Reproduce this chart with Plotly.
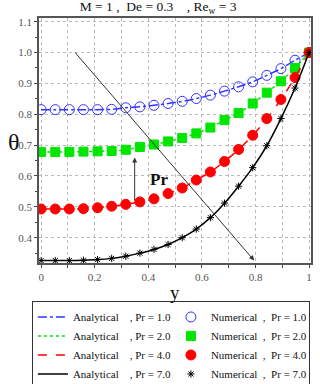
import plotly.graph_objects as go

# y-coordinate of the numerical points (20 points on [0, 1])
y_pts = [i / 19 for i in range(20)]

theta_pr1 = [0.815, 0.815, 0.815, 0.815, 0.815, 0.816, 0.821, 0.824, 0.829, 0.835,
             0.842, 0.851, 0.862, 0.875, 0.889, 0.905, 0.926, 0.948, 0.975, 1.0]
theta_pr2 = [0.678, 0.678, 0.678, 0.679, 0.680, 0.681, 0.685, 0.694, 0.702, 0.712,
             0.723, 0.738, 0.757, 0.781, 0.804, 0.835, 0.870, 0.907, 0.950, 1.0]
theta_pr4 = [0.493, 0.493, 0.493, 0.494, 0.497, 0.502, 0.508, 0.516, 0.526, 0.543,
             0.561, 0.587, 0.613, 0.647, 0.686, 0.732, 0.786, 0.848, 0.919, 1.0]
theta_pr7 = [0.326, 0.326, 0.326, 0.327, 0.329, 0.333, 0.340, 0.350, 0.362, 0.378,
             0.400, 0.428, 0.465, 0.512, 0.567, 0.627, 0.698, 0.786, 0.885, 1.0]

pr_labels = ['1.0', '2.0', '4.0', '7.0']
colors = ['#3333ff', '#00e600', '#ff0000', '#000000']
dashes = ['dashdot', 'dot', 'dash', 'solid']
symbols = ['circle-open', 'square', 'circle', 'asterisk-open']
sizes = [10, 9, 10, 6]

SERIF = 'Liberation Serif, Times New Roman, serif'
NB = '\u00a0'

fig = go.Figure()

for theta, pr, col, dash, sym, sz in zip([theta_pr1, theta_pr2, theta_pr4, theta_pr7],
                                         pr_labels, colors, dashes, symbols, sizes):
    fig.add_trace(go.Scatter(
        x=y_pts, y=theta, mode='lines',
        line=dict(color=col, dash=dash, width=1.5),
        name=f'Analytical{NB*4}, Pr = {pr}',
        line_shape='spline',
    ))
    fig.add_trace(go.Scatter(
        x=y_pts, y=theta, mode='markers',
        marker=dict(symbol=sym, color=col, size=sz,
                    line=dict(color=col, width=1)),
        name=f'Numerical{NB*2},{NB*2}Pr = {pr}',
    ))

# Pr arrows
fig.add_annotation(x=0.349, y=0.66, ax=0.349, ay=0.515, xref='x', yref='y',
                   axref='x', ayref='y', showarrow=True, arrowhead=2,
                   arrowsize=1, arrowwidth=1, arrowcolor='#333333', text='')
fig.add_annotation(x=0.795, y=0.326, ax=0.122, ay=1.005, xref='x', yref='y',
                   axref='x', ayref='y', showarrow=True, arrowhead=2,
                   arrowsize=1, arrowwidth=1, arrowcolor='#333333', text='')
fig.add_annotation(x=0.438, y=0.59, text='<b>Pr</b>', showarrow=False,
                   font=dict(family=SERIF, size=17, color='#111111'))

# axis titles
fig.add_annotation(x=-0.121, y=0.71, xref='paper', yref='y', text='θ',
                   showarrow=False, font=dict(family=SERIF, size=24, color='#111111'))
fig.add_annotation(x=0.5, y=-0.12, xref='paper', yref='paper', text='y',
                   showarrow=False, yanchor='middle',
                   font=dict(family=SERIF, size=19, color='#111111'))

fig.update_layout(
    width=320, height=384,
    margin=dict(l=39, r=9, t=18, b=121, autoexpand=False),
    paper_bgcolor='white', plot_bgcolor='white',
    title=dict(text=f'M = 1 ,{NB*2}De = 0.3{NB*2}{NB} , Re<sub>w</sub> = 3',
               x=0.494, xanchor='center', y=0.984, yanchor='middle',
               font=dict(family=SERIF, size=13.5, color='#111111')),
    font=dict(family=SERIF, color='#111111'),
    showlegend=True,
    legend=dict(
        orientation='h', x=-0.026, xanchor='left', y=-0.157, yanchor='top',
        entrywidth=93, entrywidthmode='pixels',
        bordercolor='#333333', borderwidth=1, bgcolor='white',
        font=dict(family=SERIF, size=11, color='#111111'),
        tracegroupgap=0, itemwidth=30,
    ),
)

fig.update_xaxes(
    range=[-0.008, 1.007], tickvals=[0, 0.2, 0.4, 0.6, 0.8, 1.0],
    ticktext=['0', '0.2', '0.4', '0.6', '0.8', '1'],
    showgrid=True, gridcolor='#bbbbbb', griddash='dot', gridwidth=1,
    minor=dict(dtick=0.1, tick0=0, showgrid=True, gridcolor='#bbbbbb', griddash='dot',
               ticks='outside', ticklen=3, tickcolor='#444444'),
    ticks='outside', ticklen=3, tickcolor='#444444',
    showline=True, linecolor='#555555', linewidth=1.5, mirror=True,
    zeroline=False,
    tickfont=dict(family=SERIF, size=11, color='#555555'),
)
fig.update_yaxes(
    range=[0.318, 1.112], tickvals=[0.4, 0.5, 0.6, 0.7, 0.8, 0.9, 1.0, 1.1],
    ticktext=['0.4', '0.5', '0.6', '0.7', '0.8', '0.9', '1.0', '1.1'],
    showgrid=True, gridcolor='#bbbbbb', griddash='dot', gridwidth=1,
    minor=dict(dtick=0.05, tick0=0, showgrid=False,
               ticks='outside', ticklen=2, tickcolor='#444444'),
    ticks='outside', ticklen=3, tickcolor='#444444',
    showline=True, linecolor='#555555', linewidth=1.5, mirror=True,
    zeroline=False,
    tickfont=dict(family=SERIF, size=11, color='#555555'),
)

# the page body has a default 8px margin; drop it so the figure sits at the corner
fig.write_html('out.html', config={'displayModeBar': False},
               post_script="document.body.style.margin = '0';")
